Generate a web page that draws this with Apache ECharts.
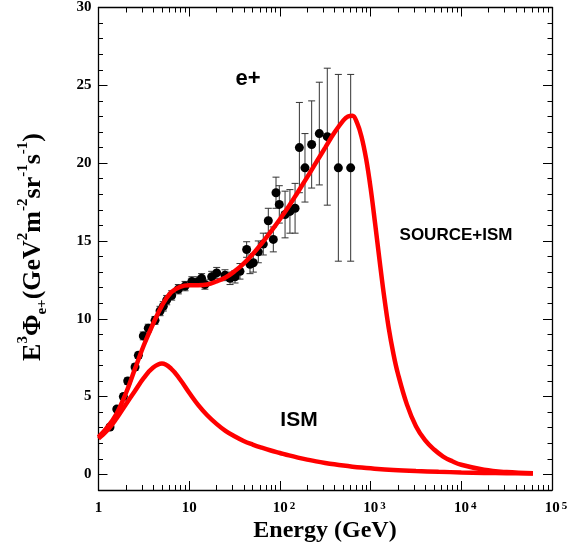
<!DOCTYPE html>
<html><head><meta charset="utf-8">
<script src="https://cdn.jsdelivr.net/npm/echarts@6/dist/echarts.min.js"></script>
<style>html,body{margin:0;padding:0;background:#fff}#c{width:576px;height:552px}</style>
</head><body><div id="c"></div>
<script>
// ---- data (energies in GeV, flux in E^3 Phi units) ----
const xTickExponents = [0, 1, 2, 3, 4, 5];
const yTickValues = [0, 5, 10, 15, 20, 25, 30];

const dataEnergy = [1.34,1.59,1.88,2.10,2.53,2.75,3.12,3.54,4.20,4.77,5.18,5.65,6.41,7.59,9.0,10.7,12.6,13.7,14.9,17.7,20.1,24.8,28.2,32.0,36.3,43.0,46.8,50.9,57.8,65.6,74.5,84.6,90.6,98.5,114,129,147,164,189,224,272,333,441,603];
const dataFlux = [3.05,4.2,5.0,6.0,6.9,7.65,8.9,9.4,9.9,10.5,10.8,11.2,11.5,11.9,12.1,12.4,12.4,12.6,12.2,12.7,12.95,12.8,12.6,12.7,13.05,14.45,13.5,13.6,14.3,14.8,16.3,15.1,18.1,17.35,16.7,16.9,17.1,21.0,19.7,21.2,21.9,21.7,19.7,19.7];
const dataErr = [0.15,0.15,0.2,0.2,0.2,0.2,0.25,0.25,0.25,0.3,0.3,0.3,0.3,0.3,0.3,0.3,0.3,0.3,0.3,0.35,0.35,0.35,0.4,0.4,0.5,0.5,0.6,0.6,0.7,0.7,0.8,0.8,1.0,1.2,1.5,1.4,1.6,2.9,2.2,2.8,3.3,4.4,6.0,6.0];

const sumEnergy = [1,1.26,1.58,2.0,2.51,3.16,3.98,5.01,6.31,7.94,10,12.6,15.8,20,25.1,31.6,39.8,50.1,63.1,79.4,100,126,158,200,251,316,398,501,562,631,708,794,891,1000,1122,1259,1413,1585,1778,1995,2512,3162,3981,5012,6310,7943,10000,17783,31623,61660];
const sumFlux = [2.4,3.05,3.9,5.2,6.75,8.3,9.65,10.85,11.7,12.05,12.15,12.15,12.2,12.4,12.65,13.05,13.55,14.15,14.85,15.6,16.4,17.25,18.15,19.1,20.05,21.0,21.95,22.75,23.0,23.05,22.6,21.7,20.3,18.4,16.1,13.7,11.4,9.4,7.8,6.5,4.5,3.1,2.2,1.6,1.15,0.85,0.62,0.3,0.15,0.07];

const ismEnergy = [1,1.26,1.58,2.0,2.51,3.16,3.98,5.01,6.31,7.94,10,12.6,15.8,20,25.1,31.6,39.8,50.1,63.1,79.4,100,126,158,200,251,316,398,501,631,794,1000,1778,3162,5623,10000,17783,31623,61660];
const ismFlux = [2.3,2.85,3.6,4.5,5.35,6.2,6.85,7.12,6.8,6.1,5.25,4.45,3.8,3.25,2.8,2.45,2.15,1.92,1.72,1.54,1.38,1.22,1.08,0.95,0.84,0.74,0.65,0.57,0.5,0.44,0.39,0.29,0.22,0.17,0.13,0.1,0.08,0.06];

const annotations = [
  {text: 'e+', x: 248, y: 79, size: 22},
  {text: 'SOURCE+ISM', x: 456, y: 235, size: 17},
  {text: 'ISM', x: 299, y: 420, size: 21}
];

// ---- build ----
const lg = Math.log10;
const minorX = [];
for (let d = 0; d < 5; d++) for (let k = 2; k <= 9; k++) minorX.push(lg(k * Math.pow(10, d)));
const minorY = [];
for (let v = -1; v <= 30; v++) minorY.push(v);

const serif = '"Liberation Serif", "Times New Roman", serif';
const black = '#000';

function xAxisDef(pos, ticks, len, showLabel, showLine) {
  return {
    type: 'value', position: pos, min: 0, max: 5,
    axisLine: {show: showLine, onZero: false, lineStyle: {color: black, width: 1.3}},
    axisTick: {show: true, inside: true, length: len, customValues: ticks, lineStyle: {color: black, width: 1}},
    splitLine: {show: false},
    axisLabel: showLabel ? {
      show: true, customValues: xTickExponents, margin: 11,
      formatter: function (v) {
        const e = Math.round(v);
        if (e === 0) return '{n|1}';
        if (e === 1) return '{n|10}';
        return '{p|10}{s|' + e + '}';
      },
      rich: {
        n: {fontFamily: serif, fontWeight: 'bold', fontSize: 15, lineHeight: 15, padding: [6, 0, 0, 0], verticalAlign: 'bottom', color: black},
        p: {fontFamily: serif, fontWeight: 'bold', fontSize: 15, lineHeight: 15, padding: [6, 0, 0, 8], verticalAlign: 'bottom', color: black},
        s: {fontFamily: serif, fontWeight: 'bold', fontSize: 11, lineHeight: 11, padding: [0, 0, 0, 2], verticalAlign: 'top', color: black}
      }
    } : {show: false}
  };
}
function yAxisDef(pos, ticks, len, showLabel, showLine) {
  return {
    type: 'value', position: pos, min: -1, max: 30,
    axisLine: {show: showLine, onZero: false, lineStyle: {color: black, width: 1.3}},
    axisTick: {show: true, inside: true, length: len, customValues: ticks, lineStyle: {color: black, width: 1}},
    splitLine: {show: false},
    axisLabel: showLabel ? {
      show: true, customValues: yTickValues, margin: 7,
      fontFamily: serif, fontWeight: 'bold', fontSize: 15, color: black
    } : {show: false}
  };
}

const errData = dataEnergy.map((e, i) => [lg(e), dataFlux[i] - dataErr[i], dataFlux[i] + dataErr[i]]);

const option = {
  animation: false,
  backgroundColor: '#fff',
  grid: {left: 98.5, right: 24, top: 6.5, bottom: 62, containLabel: false},
  xAxis: [
    xAxisDef('bottom', xTickExponents, 9, true, true),
    xAxisDef('bottom', minorX, 5, false, false),
    xAxisDef('top', xTickExponents, 9, false, true),
    xAxisDef('top', minorX, 5, false, false)
  ],
  yAxis: [
    yAxisDef('left', yTickValues, 9, true, true),
    yAxisDef('left', minorY, 4.5, false, false),
    yAxisDef('right', yTickValues, 9, false, true),
    yAxisDef('right', minorY, 4.5, false, false)
  ],
  series: [
    {
      type: 'custom', name: 'errors', z: 2,
      data: errData,
      encode: {x: 0, y: [1, 2]},
      renderItem: function (params, api) {
        const x = api.value(0);
        const p1 = api.coord([x, api.value(2)]);
        const p2 = api.coord([x, api.value(1)]);
        const w = 3.5;
        const st = {stroke: '#333', lineWidth: 1};
        return {type: 'group', children: [
          {type: 'line', shape: {x1: p1[0], y1: p1[1], x2: p2[0], y2: p2[1]}, style: st},
          {type: 'line', shape: {x1: p1[0] - w, y1: p1[1], x2: p1[0] + w, y2: p1[1]}, style: st},
          {type: 'line', shape: {x1: p2[0] - w, y1: p2[1], x2: p2[0] + w, y2: p2[1]}, style: st}
        ]};
      }
    },
    {
      type: 'scatter', name: 'data', z: 3,
      symbol: 'circle', symbolSize: 9,
      itemStyle: {color: '#000', opacity: 1},
      data: dataEnergy.map((e, i) => [lg(e), dataFlux[i]])
    },
    {
      type: 'line', name: 'ISM', z: 4, showSymbol: false, smooth: 0.4,
      lineStyle: {color: '#ff0000', width: 4.5},
      data: ismEnergy.map((e, i) => [lg(e), ismFlux[i]])
    },
    {
      type: 'line', name: 'SOURCE+ISM', z: 4, showSymbol: false, smooth: 0.4,
      lineStyle: {color: '#ff0000', width: 4.5},
      data: sumEnergy.map((e, i) => [lg(e), sumFlux[i]])
    }
  ],
  graphic: [
    {
      type: 'text', x: 33, y: 247, rotation: Math.PI / 2,
      style: {
        text: '{m|E}{sup|3}{m|Φ}{sub|e+}{m|(GeV}{sup|2}{m|m}{sup|-2}{m|sr}{sup|-1}{m|s}{sup|-1}{m|)}',
        align: 'center', verticalAlign: 'middle',
        rich: {
          m: {fontFamily: serif, fontWeight: 'bold', fontSize: 26, lineHeight: 34, fill: black},
          sup: {fontFamily: serif, fontWeight: 'bold', fontSize: 15, lineHeight: 15, verticalAlign: 'top', fill: black},
          sub: {fontFamily: serif, fontWeight: 'bold', fontSize: 15, lineHeight: 15, verticalAlign: 'bottom', fill: black}
        }
      }
    },
    {
      type: 'text', x: 325, y: 531,
      style: {text: 'Energy (GeV)', fontFamily: serif, fontWeight: 'bold', fontSize: 24, fill: black, align: 'center', verticalAlign: 'middle'}
    }
  ].concat(annotations.map(a => ({
    type: 'text', x: a.x, y: a.y,
    style: {text: a.text, fontFamily: '"Liberation Sans", Arial, sans-serif', fontWeight: 'bold', fontSize: a.size, fill: black, align: 'center', verticalAlign: 'middle'}
  })))
};

const chart = echarts.init(document.getElementById('c'), null, {renderer: 'canvas'});
chart.setOption(option);
</script>
</body></html>
